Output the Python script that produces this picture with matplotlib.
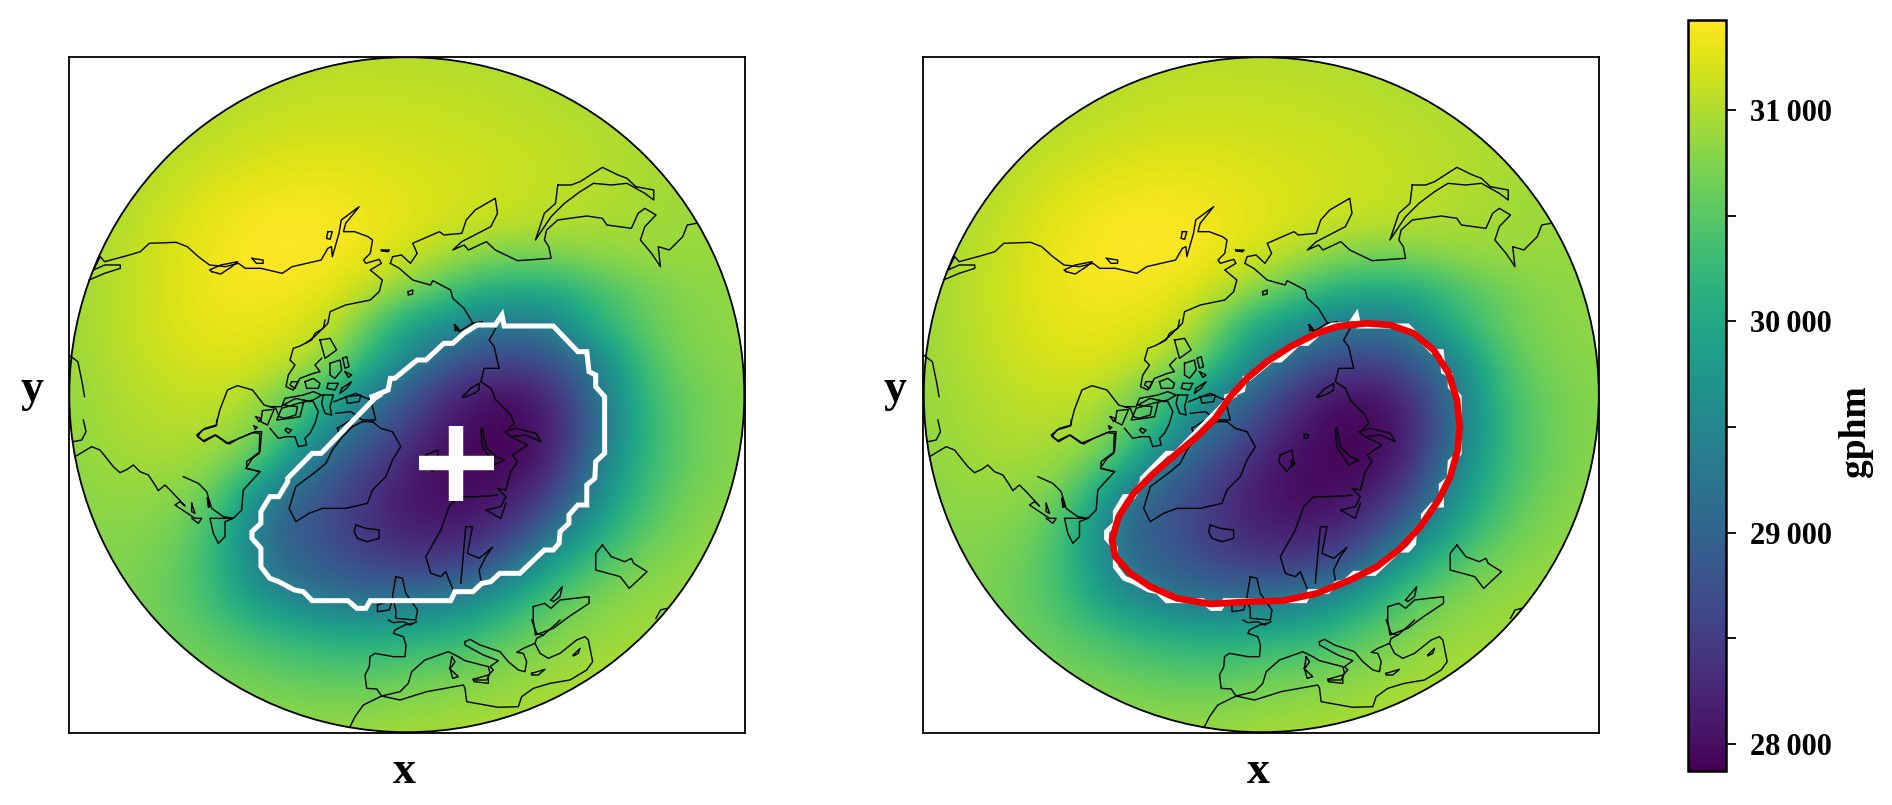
import numpy as np
import matplotlib
matplotlib.use('Agg')
import matplotlib.pyplot as plt
from matplotlib.patches import Circle

plt.rcParams['font.family'] = ['Liberation Serif', 'DejaVu Serif']
plt.rcParams['font.weight'] = 'bold'

# geopotential height, 21 x 21 points, top row first
z_rows = [
 [30900,30900,30900,30900,30950,30980,31000,31020,31030,31030,31020,31010,31000,30980,30960,30940,30920,30900,30900,30900,30900],
 [30900,30900,30920,30960,31000,31030,31060,31090,31100,31100,31090,31080,31060,31040,31010,30980,30950,30920,30900,30900,30900],
 [30900,30900,30950,31000,31040,31080,31120,31140,31150,31150,31140,31130,31110,31090,31060,31030,30990,30950,30920,30900,30900],
 [30900,30920,30980,31050,31120,31180,31220,31250,31250,31230,31200,31180,31160,31130,31100,31060,31020,30980,30940,30910,30890],
 [30900,30950,31030,31130,31220,31290,31330,31350,31340,31300,31250,31210,31180,31140,31100,31060,31000,30960,30920,30890,30870],
 [30900,30980,31080,31190,31290,31370,31420,31420,31390,31330,31270,31200,31130,31080,31050,31010,30970,30930,30900,30880,30860],
 [30900,31000,31110,31220,31320,31390,31420,31410,31380,31290,31130,30950,30760,30640,30640,30720,30820,30870,30880,30870,30850],
 [30900,31000,31120,31230,31320,31370,31380,31340,31220,31000,30700,30400,30150,30000,30000,30150,30400,30600,30750,30820,30830],
 [30900,31000,31110,31210,31280,31310,31270,31200,31000,30450,29950,29700,29300,29250,29250,29800,30250,30550,30720,30800,30820],
 [30900,30980,31080,31170,31220,31230,31170,31030,30650,30150,29500,29000,28700,28600,28700,29050,29700,30350,30650,30770,30800],
 [30850,30950,31020,31080,31110,31080,30800,30450,30000,29300,28850,28400,28100,28000,28200,28700,29500,30200,30550,30700,30780],
 [30850,30930,30990,31020,31000,30900,30600,30150,29350,28950,28500,28150,27950,27900,28050,28550,29400,30150,30520,30700,30780],
 [30800,30880,30930,30930,30880,30650,30200,29350,28900,28550,28200,28000,27920,27920,28100,28750,29600,30200,30520,30700,30780],
 [30800,30850,30850,30800,30650,30100,29300,28950,28650,28350,28100,27980,27980,28100,28450,29050,29800,30300,30600,30750,30800],
 [30780,30780,30780,30700,30450,29800,29100,28850,28600,28350,28200,28150,28200,28450,28950,29600,30150,30500,30700,30800,30830],
 [30780,30760,30720,30620,30350,29850,29200,28950,28780,28600,28500,28480,28650,29050,29700,30200,30500,30700,30800,30850,30870],
 [30800,30760,30700,30600,30400,30000,29650,29350,29200,29150,29250,29300,29550,29950,30350,30600,30750,30850,30880,30900,30900],
 [30800,30780,30720,30620,30520,30380,30220,30100,30000,29950,30000,30050,30200,30420,30650,30780,30870,30900,30930,30950,30950],
 [30800,30780,30760,30720,30680,30600,30520,30450,30420,30420,30500,30540,30640,30750,30840,30920,30960,30980,31000,31000,31000],
 [30850,30850,30830,30800,30790,30780,30740,30700,30690,30700,30780,30800,30860,30900,30950,30990,31010,31020,31020,31020,31020],
 [30900,30900,30880,30870,30860,30850,30860,30870,30880,30900,30950,30960,30980,31000,31020,31030,31030,31030,31030,31030,31030],
]

cbar_ticks = [28000, 28500, 29000, 29500, 30000, 30500, 31000]
cbar_labels = ['28\u2009000', '', '29\u2009000', '', '30\u2009000', '', '31\u2009000']
z_min = 27870
z_max = 31426

coast_north = [
 [(65,690),(100,670),(135,655),(135,645),(100,645),(75,660),(90,620),(100,635),(150,617),(180,605),(200,580),(260,577),(285,590),(310,620),(335,645),(370,650),(400,640),(415,655),(450,655),(498,670),(520,650),(585,630),(600,595),(608,590),(610,620),(625,550),(630,510),(670,470),(640,520),(635,545),(660,545),(690,560),(700,570),(695,610),(680,630),(685,640),(715,628),(720,640),(695,660),(722,690),(715,725),(695,750),(640,765),(605,785),(600,820),(570,860),(550,880)],
 [(340,665),(360,672),(385,650),(398,635),(360,645),(335,660),(340,665)],
 [(430,625),(455,630),(455,640),(440,640),(430,625)],
 [(600,545),(610,545),(605,568),(597,565),(600,545)],
 [(720,600),(738,600),(735,605),(720,603),(720,600)],
 [(740,640),(745,620),(765,615),(785,640),(800,610),(790,580),(850,545),(860,555),(900,550),(910,510),(930,480),(975,445),(980,490),(965,530),(900,575),(880,600),(905,585),(915,600),(955,575),(975,600),(1025,632),(1100,625),(1095,590),(1085,570),(1090,540),(1115,510),(1180,498),(1215,505),(1225,525),(1280,535),(1295,490),(1310,475),(1335,495),(1310,530),(1300,570),(1325,610),(1345,650),(1340,590),(1365,600),(1395,560),(1405,525),(1425,520)],
 [(740,640),(760,655),(790,690),(830,705),(835,692),(875,720),(880,745),(905,775),(925,820)],
 [(1115,405),(1145,405),(1165,395),(1215,352),(1250,375),(1270,385),(1290,410),(1330,420),(1330,450),(1310,430),(1270,400),(1235,405),(1195,400),(1165,425),(1130,460),(1100,500),(1085,530),(1065,570),(1085,490),(1110,460),(1115,405)],
 [(885,825),(895,840),(885,842),(885,825)],
 [(780,725),(790,720),(790,732),(780,735),(780,725)],
 [(20,915),(40,935),(50,1000),(55,1040)],
]
coast_south = [
 [(1060,650),(1085,640),(1100,655),(1120,630),(1185,620),(1185,640),(1140,680),(1105,715),(1065,735),(1060,690),(1060,650)],
 [(1100,630),(1125,590),(1120,620),(1105,635),(1100,630)],
 [(1215,465),(1235,500),(1265,515),(1280,505),(1285,520),(1315,545),(1275,595),(1255,560),(1200,540),(1200,490),(1215,465)],
 [(1335,685),(1345,660),(1360,655)],
]
coast_centre = [
 [(193,545),(150,535),(170,505),(190,490),(192,430),(170,428),(130,445),(100,462),(60,435),(25,455),(5,440),(20,420),(60,408),(72,360),(95,300),(125,287),(170,300),(205,345),(240,355),(250,380),(265,385),(300,375),(305,350),(262,345),(300,325),(340,335)],
 [(200,362),(235,358),(215,405),(195,395),(200,362)],
 [(180,380),(195,385),(190,395),(180,380)],
 [(175,408),(185,412),(178,418),(175,408)],
 [(415,335),(480,310),(500,320),(525,330),(540,390),(500,390),(465,365),(420,370)],
 [(450,320),(495,315),(490,335),(455,340),(450,320)],
 [(425,415),(465,390),(470,410),(430,430),(425,415)],
 [(530,395),(555,415),(590,425),(615,470),(590,510),(570,560),(530,600),(515,640),(450,655),(380,655),(340,670),(300,695),(280,655),(300,590),(360,545),(390,520),(410,480),(440,440),(470,410),(500,395),(530,395)],
 [(480,705),(510,715),(550,720),(550,745),(515,755),(485,745),(475,725),(480,705)],
 [(690,495),(725,480),(730,515),(710,545),(685,515),(690,495)],
 [(722,515),(735,520),(725,530),(722,515)],
 [(762,432),(775,435),(772,445),(762,445),(762,432)],
 [(860,415),(870,470),(900,500),(925,510),(895,525),(860,470),(855,420),(860,415)],
 [(800,320),(825,295),(850,280),(850,300),(835,310),(805,322),(800,320)],
 [(925,425),(960,415),(1020,430),(1035,455),(990,435),(945,440),(925,425)],
 [(900,115),(880,150),(895,170),(910,235),(865,235),(855,275),(885,295),(900,330),(945,375),(955,400),(940,415)],
 [(945,440),(995,465),(950,495),(965,515),(945,545),(930,600),(905,595),(930,620),(915,650),(870,660),(915,685),(930,640)],
 [(905,615),(880,618),(830,620),(790,620),(760,650),(735,720),(690,800),(705,850),(735,860),(750,845),(770,895)],
 [(795,880),(810,710),(830,710),(815,790),(850,805),(890,772),(870,800),(850,840),(855,870)],
 [(600,860),(620,865),(630,910),(665,960),(660,990),(600,985),(600,960),(590,920),(600,860)],
 [(545,945),(590,930),(580,960),(545,965),(545,945)],
 [(775,105),(790,125),(830,100),(860,95)],
]
coast_arctic = [
 [(165,0),(160,25),(135,40),(125,60),(90,78),(70,85),(60,120),(75,135),(55,165),(48,200),(70,210),(90,175),(130,160),(150,155),(135,135),(155,115)],
 [(150,60),(180,55),(200,90),(165,115),(150,60)],
 [(180,130),(210,120),(215,150),(195,175),(180,165),(180,130)],
 [(218,115),(230,110),(237,140),(225,145),(218,115)],
 [(225,155),(245,165),(235,172),(225,155)],
 [(105,185),(130,175),(150,190),(145,205),(110,205),(105,185)],
 [(65,185),(85,185),(75,205),(60,195),(65,185)],
 [(175,190),(205,190),(195,210),(170,205),(175,190)],
 [(215,205),(245,185),(230,205),(210,220),(215,205)],
 [(0,260),(35,260),(45,235),(100,225),(130,215),(155,225),(130,240),(85,250),(35,265),(20,300),(60,295),(90,290),(100,250)],
 [(100,240),(130,245),(145,275),(135,310),(120,340),(105,355),(110,375),(85,380),(75,350),(50,350),(25,355),(0,325)],
 [(50,325),(65,330),(55,340),(45,330),(50,325)],
 [(160,225),(190,225),(180,260),(185,285),(165,280),(155,250),(160,225)],
]
coast_europe = [
 [(115,0),(130,8),(160,5),(180,15),(200,5)],
 [(185,10),(165,15),(135,30),(130,40),(160,50),(168,75),(165,110),(130,110),(75,100),(60,110),(58,140),(45,165),(50,205),(80,207),(95,228),(150,215),(175,190),(185,155),(225,120),(295,95),(325,110),(345,122),(415,140),(420,160),(410,180),(370,180)],
 [(370,178),(415,165),(415,190),(372,185),(370,178)],
 [(345,65),(360,58),(390,75),(450,95),(475,125),(505,150),(525,155),(530,125),(520,100),(500,97),(520,85),(555,70),(570,100),(595,115),(630,100),(680,60),(705,50),(715,60),(728,125),(710,150),(660,180),(600,190),(550,205),(515,230),(505,260),(445,262),(350,245),(345,205),(340,195),(230,215),(150,240),(95,228),(40,255),(15,290),(0,320)],
 [(345,65),(345,75),(400,105),(445,122),(420,140),(430,150),(415,165)],
 [(555,70),(560,55),(580,45),(620,10),(630,0)],
 [(545,0),(560,40),(580,45)],
 [(305,110),(315,125),(305,140),(298,145),(325,170),(308,175),(300,145),(305,110)],
 [(545,160),(585,148),(565,165),(545,165),(545,160)],
 [(670,105),(690,85),(685,100),(670,108),(670,105)],
]
coast_america = [
 [(15,110),(65,80),(90,90),(110,115),(130,140),(150,158),(172,148),(190,135),(210,155),(235,165),(255,195),(265,212),(285,195),(305,215),(345,258),(330,245),(315,255),(345,275),(375,295),(395,295),(385,310),(365,295)],
 [(340,170),(385,190),(410,215),(425,265),(460,290),(490,295),(420,295),(430,340),(445,370),(465,350),(465,305),(490,295),(515,270),(520,210),(570,155),(530,145),(530,125),(570,95),(575,35),(555,35),(520,50),(470,70),(435,45),(400,62),(380,45),(405,25),(440,15),(440,0)],
 [(412,235),(420,260),(415,262),(412,235)],
 [(365,250),(375,280),(365,275),(365,250)],
 [(10,65),(35,60),(48,35),(40,0)],
]

# white contour, first part from the north crop, the rest from the south crop
white_north = [(700,1040),(735,1020),(740,985),(750,985),(800,930),(820,930),(860,880),(880,880),(905,850),(935,825),(975,825),(990,795),(995,828),(1105,828),(1160,905),(1180,905),(1185,965),(1200,975),(1200,1010),(1220,1040)]
white_south = [(1220,20),(1220,190),(1200,215),(1198,265),(1180,285),(1180,345),(1160,345),(1140,375),(1140,400),(1120,425),(1118,460),(1105,480),(1085,480),(1030,550),(985,550),(965,575),(945,580),(925,605),(885,605),(875,632),(695,632),(685,655),(665,655),(645,632),(565,632),(545,605),(525,600),(490,575),(470,565),(450,530),(450,475),(430,445),(430,425),(450,400),(450,365),(470,320),(490,320),(510,275),(510,265),(565,190),(585,190),(705,25),(720,12)]

# red contour from the centre crop
red_centre = [(900,105),(950,100),(1020,105),(1090,130),(1150,180),(1195,250),(1220,330),(1228,410),(1222,480),(1200,560),(1165,630),(1110,710),(1050,775),(980,830),(900,870),(800,910),(700,932),(600,935),(480,942),(380,925),(300,890),(240,850),(195,800),(185,750),(205,680),(250,610),(310,550),(380,490),(440,440),(495,385),(540,320),(590,265),(650,215),(720,170),(800,130),(860,110),(900,105)]

center_x = 387
center_y = 406


def from_crop(pts, x0, y0, sx=3.0, sy=3.0):
    # crop px to map px, crop origin given in map px
    p = np.array(pts, dtype=float)
    return p[:, 0] / sx + x0, p[:, 1] / sy + y0


def north(pts):
    return from_crop(pts, -8.8, -6.7, sx=2.24)


def south(pts):
    return from_crop(pts, -8.8, 333.3, sx=2.24)


def centre(pts):
    return from_crop(pts, 127, 233.3)


def arctic(pts):
    return from_crop(pts, 201.2, 263.3)


def europe(pts):
    return from_crop(pts, 281.2, 563.3)


def america(pts):
    return from_crop(pts, 1.2, 363.3)


W = 1892
H = 805
fig = plt.figure(figsize=(W / 100, H / 100), dpi=100)


def px_axes(left, top, width, height):
    return fig.add_axes([left / W, 1 - (top + height) / H, width / W, height / H])


ax1 = px_axes(68.8, 56.7, 676, 676)
ax2 = px_axes(923.3, 56.7, 676, 676)

Z = np.array(z_rows)
cell = 676 / 20
im = None
for ax in [ax1, ax2]:
    im = ax.imshow(Z, cmap='viridis', vmin=z_min, vmax=z_max, interpolation='bicubic',
                   extent=(-cell / 2, 676 + cell / 2, 676 + cell / 2, -cell / 2), aspect='equal')
    disc = Circle((338, 338), 338, transform=ax.transData, facecolor='none', edgecolor='none')
    ax.add_patch(disc)
    im.set_clip_path(disc)
    ax.add_patch(Circle((338, 338), 337.5, facecolor='none', edgecolor='black', linewidth=1.3, zorder=5))

    for segs, conv in [(coast_north, north), (coast_south, south), (coast_centre, centre),
                       (coast_arctic, arctic), (coast_europe, europe), (coast_america, america)]:
        for seg in segs:
            xs, ys = conv(seg)
            ax.plot(xs, ys, color='black', lw=1.0, zorder=3)

    x1, y1 = north(white_north)
    x2, y2 = south(white_south)
    ax.plot(np.r_[x1, x2, x1[0]], np.r_[y1, y2, y1[0]], color='white', lw=3.6,
            solid_joinstyle='miter', zorder=4)

    ax.set_xlim(0, 676)
    ax.set_ylim(676, 0)
    ax.set_xticks([])
    ax.set_yticks([])
    for s in ax.spines.values():
        s.set_linewidth(1.3)

ax1.plot([center_x], [center_y], marker='+', color='white', ms=54, mew=10.4, zorder=6)

xr, yr = centre(red_centre)
ax2.plot(xr, yr, color='#ee0000', lw=4.8, solid_joinstyle='round', zorder=6)

cax = px_axes(1688, 20.5, 38, 750.5)
cb = fig.colorbar(im, cax=cax)
cb.set_ticks(cbar_ticks)
cb.set_ticklabels(cbar_labels)
cb.ax.tick_params(length=7.5, width=1.3, labelsize=22, pad=10)
cb.ax.minorticks_off()
cb.outline.set_linewidth(1.8)

fig.text(404 / W, 1 - 772 / H, 'x', fontsize=33, ha='center', va='center')
fig.text(1258 / W, 1 - 772 / H, 'x', fontsize=33, ha='center', va='center')
fig.text(32 / W, 1 - 390 / H, 'y', fontsize=33, ha='center', va='center')
fig.text(895 / W, 1 - 390 / H, 'y', fontsize=33, ha='center', va='center')
fig.text(1855 / W, 1 - 431 / H, 'gphm', fontsize=27, rotation=90, ha='center', va='center')

fig.savefig('out.png', dpi=100)
